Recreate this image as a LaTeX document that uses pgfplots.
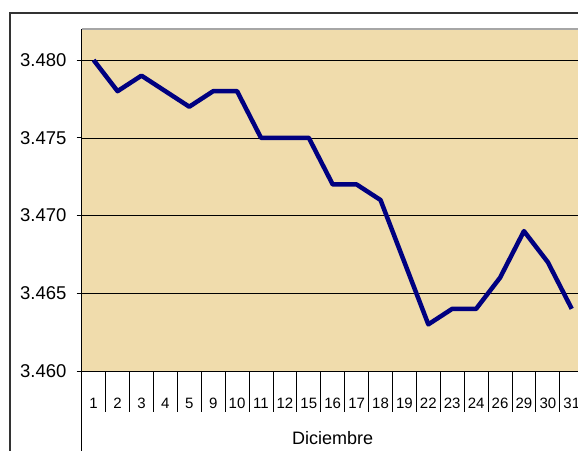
\documentclass[border=0pt]{standalone}
\usepackage{pgfplots}
\pgfplotsset{compat=1.18}
\usepackage{fontspec}
\setmainfont{Liberation Sans}
\definecolor{parch}{RGB}{240,220,172}
\definecolor{navyline}{RGB}{0,0,128}
\begin{document}
\begin{tikzpicture}[x=1pt,y=1pt]
\useasboundingbox (0,0) rectangle (578,450);
\clip (0,0) rectangle (578,450);
\draw[line width=1.2pt, black!80] (10,-5) -- (10,437) -- (600,437);
\begin{axis}[
  at={(81.7pt,79pt)}, anchor=south west,
  scale only axis, width=502pt, height=342pt,
  clip mode=individual,
  xmin=-0.5, xmax=20.5, ymin=3.46, ymax=3.482,
  axis lines=left, axis line style={-, black, line width=0.8pt},
  axis background/.style={fill=parch},
  ytick={3.46,3.465,3.47,3.475,3.48},
  scaled y ticks=false,
  /pgf/number format/assume math mode=true,
  yticklabel style={/pgf/number format/fixed, /pgf/number format/fixed zerofill, /pgf/number format/precision=3,
     anchor=east, inner sep=0pt, xshift=-10pt, font=\fontsize{18.5}{18.5}\selectfont},
  ymajorgrids, major grid style={black, line width=0.5pt},
  tick align=outside, major tick length=5pt,
  ytick style={black, line width=0.8pt},
  xtick={0,...,20},
  xticklabels={1,2,3,4,5,9,10,11,12,15,16,17,18,19,22,23,24,26,29,30,31},
  xtick style={draw=none},
  xticklabel style={anchor=center, yshift=-27pt, inner sep=0pt, font=\fontsize{15}{15}\selectfont},
  xlabel={Diciembre},
  xlabel style={at={(axis description cs:0.5,0)}, anchor=center, yshift=-67pt, inner sep=0pt, font=\fontsize{18}{18}\selectfont},
]
\addplot[navyline, line width=4.5pt, line join=round, mark=none] coordinates {
(0,3.480) (1,3.478) (2,3.479) (3,3.478) (4,3.477) (5,3.478) (6,3.478)
(7,3.475) (8,3.475) (9,3.475) (10,3.472) (11,3.472) (12,3.471) (13,3.467)
(14,3.463) (15,3.464) (16,3.464) (17,3.466) (18,3.469) (19,3.467) (20,3.464)};
\draw[gray!70, line width=1.5pt] (rel axis cs:0,1) -- (rel axis cs:1,1);
\draw[black, line width=0.8pt] (rel axis cs:0,0) -- ([yshift=-100pt]rel axis cs:0,0);
\pgfplotsinvokeforeach{0.5,1.5,...,20.5}{
  \draw[black, line width=0.8pt] (axis cs:#1,3.46) -- ([yshift=-41pt]axis cs:#1,3.46);
}
\end{axis}
\end{tikzpicture}
\end{document}
